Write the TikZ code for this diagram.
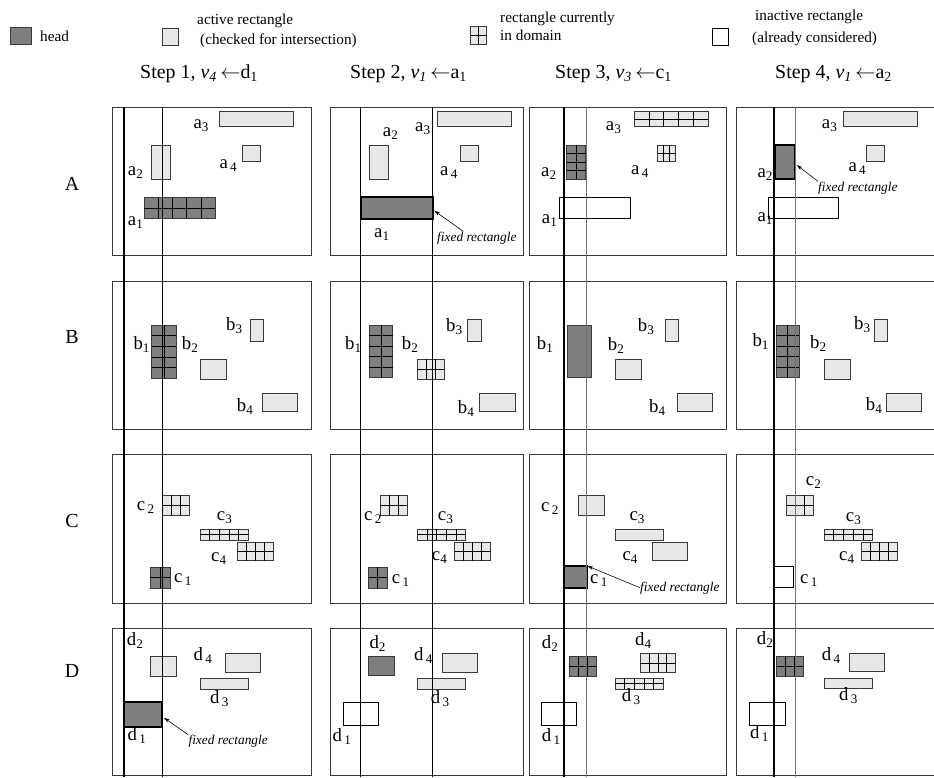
\documentclass[tikz,border=0pt]{standalone}
\usepackage{fontspec}
\setmainfont{Liberation Serif}
\usetikzlibrary{arrows.meta,calc}
\definecolor{HeadGray}{HTML}{7F7F7F}
\definecolor{ActiveGray}{HTML}{E8E8E8}
\definecolor{EdgeGray}{HTML}{3A3A3A}
\tikzset{
  panel/.style={draw=EdgeGray, line width=0.6pt},
  headrect/.style={draw=EdgeGray, fill=HeadGray, line width=0.5pt},
  activerect/.style={draw=EdgeGray, fill=ActiveGray, line width=0.5pt},
  inactiverect/.style={draw=black, fill=white, line width=0.5pt},
  fixedrect/.style={draw=black, fill=HeadGray, line width=1.4pt},
  gridline/.style={draw=black, line width=0.5pt},
  sweep/.style={draw=black, line width=0.8pt},
  sweepthick/.style={draw=black, line width=1.5pt},
  sweepthin/.style={draw=black!55, line width=0.8pt},
  lab/.style={anchor=base west, inner sep=0pt, font=\fontsize{16}{18}\selectfont},
  fixlab/.style={anchor=base west, inner sep=0pt, font=\fontsize{11.4}{13}\selectfont\itshape},
  fixarr/.style={-{Stealth[length=5pt,width=3pt]}, line width=0.5pt},
  legtext/.style={anchor=base west, inner sep=0pt, font=\fontsize{13}{15}\selectfont},
  steptext/.style={anchor=base west, inner sep=0pt, font=\fontsize{17}{20}\selectfont},
  rowlab/.style={anchor=base, inner sep=0pt, font=\fontsize{17}{20}\selectfont}
}
% rectangle with cell lines: style, x1, y1, x2, y2, columns, rows
\newcommand{\gridrect}[7]{%
  \draw[#1] (#2,#3) rectangle (#4,#5);
  \foreach \k in {2,...,#6} \draw[gridline] ({#2+(#4-#2)*(\k-1)/#6},#3) -- ({#2+(#4-#2)*(\k-1)/#6},#5);
  \foreach \k in {2,...,#7} \draw[gridline] (#2,{#3+(#5-#3)*(\k-1)/#7}) -- (#4,{#3+(#5-#3)*(\k-1)/#7});
}
\newcommand{\lb}[2]{#1\textsubscript{#2}}
\newcommand{\lbs}[2]{#1\kern2pt\textsubscript{#2}}
% step number, variable index, chosen rectangle letter and index
\newcommand{\stepname}[4]{Step #1, \textit{v}\textsubscript{\textit{#2}}\,$\leftarrow$#3\textsubscript{#4}}

\begin{document}
\begin{tikzpicture}[x=0.03cm,y=-0.03cm]
\useasboundingbox (0,0) rectangle (934,777);

% legend
\draw[headrect] (10,27) rectangle (31,44);
\node[legtext] (lhead) at (40,41) {head};
\draw[activerect] (162,28) rectangle (178,45);
\node[legtext] (lact1) at (197,24) {active rectangle};
\node[legtext] (lact2) at (200,44) {(checked for intersection)};
\gridrect{activerect}{470}{26}{486}{44}{2}{2}
\node[legtext] (ldom1) at (500,22) {rectangle currently};
\node[legtext] (ldom2) at (500,40) {in domain};
\draw[inactiverect] (712,28) rectangle (728,45);
\node[legtext] (linact1) at (755,20) {inactive rectangle};
\node[legtext] (linact2) at (752,42) {(already considered)};

% column headers
\node[steptext] (s1) at (140,78) {\stepname{1}{4}{d}{1}};
\node[steptext] (s2) at (350,78) {\stepname{2}{1}{a}{1}};
\node[steptext] (s3) at (555,78) {\stepname{3}{3}{c}{1}};
\node[steptext] (s4) at (775,78) {\stepname{4}{1}{a}{2}};

% row labels
\node[rowlab] (rA) at (72,190) {A};
\node[rowlab] (rB) at (72,343) {B};
\node[rowlab] (rC) at (72,527) {C};
\node[rowlab] (rD) at (72,677) {D};

% panels
\foreach \xa/\xb in {112.7/311.7, 330/523.3, 529.3/726.7, 736.7/935}
  \foreach \ya/\yb in {107.3/255.7, 281.7/429.3, 454.3/603.3, 628.3/775.3}
    \draw[panel] (\xa,\ya) rectangle (\xb,\yb);

% row A
\draw[activerect] (219,111.7) rectangle (293.3,126.7);
\draw[activerect] (151.7,145) rectangle (170,179.3);
\draw[activerect] (242.7,145) rectangle (260.7,161);
\gridrect{headrect}{144.3}{197.7}{215}{218.3}{5}{2}
\node[lab] (a3-1) at (193.3,128.3) {\lb{a}{3}};
\node[lab] (a2-1) at (127.7,175) {\lb{a}{2}};
\node[lab] (a4-1) at (219.3,168.3) {\lbs{a}{4}};
\node[lab] (a1-1) at (127.7,225) {\lb{a}{1}};

\draw[activerect] (437,111.7) rectangle (511.3,126.7);
\draw[activerect] (369.7,145) rectangle (388,179.3);
\draw[activerect] (460.7,145) rectangle (478.7,161);
\draw[fixedrect] (360.7,196.7) rectangle (433.3,219);
\coordinate (tipA2) at (434.3,210.7);
\node[lab] (a3-2) at (415,131.7) {\lb{a}{3}};
\node[lab] (a2-2) at (382.7,136.7) {\lb{a}{2}};
\node[lab] (a4-2) at (440,175) {\lbs{a}{4}};
\node[lab] (a1-2) at (374,237) {\lb{a}{1}};
\node[fixlab] (fixA2) at (437,241) {fixed rectangle};
\draw[fixarr] ($(fixA2.north west)!0.33!(fixA2.north east)$) -- (tipA2);

\gridrect{activerect}{634}{111.7}{708.3}{126.7}{5}{2}
\gridrect{headrect}{566.7}{145}{585.7}{179.3}{2}{4}
\gridrect{activerect}{657.7}{145}{675.7}{161.7}{3}{2}
\draw[inactiverect] (559.3,197.7) rectangle (630,218.3);
\node[lab] (a3-3) at (605.7,130) {\lb{a}{3}};
\node[lab] (a2-3) at (541,176.7) {\lb{a}{2}};
\node[lab] (a4-3) at (631,174) {\lbs{a}{4}};
\node[lab] (a1-3) at (541.7,223.3) {\lb{a}{1}};

\draw[activerect] (843.3,111.7) rectangle (917.3,126.7);
\draw[fixedrect] (775,145) rectangle (795,179.3);
\coordinate (tipA4) at (796.7,165);
\draw[activerect] (866.7,145) rectangle (884.3,161);
\draw[inactiverect] (768.3,197.7) rectangle (838.3,218.3);
\node[lab] (a3-4) at (821.7,128.3) {\lb{a}{3}};
\node[lab] (a2-4) at (757.3,177.3) {\lb{a}{2}};
\node[lab] (a4-4) at (848.3,171.7) {\lbs{a}{4}};
\node[lab] (a1-4) at (757.3,221.7) {\lb{a}{1}};
\node[fixlab] (fixA4) at (818,191) {fixed rectangle};
\draw[fixarr] (fixA4.north west) -- (tipA4);

% row B
\gridrect{headrect}{151.7}{325}{176}{378.3}{2}{5}
\draw[activerect] (200,359.3) rectangle (226.7,379);
\draw[activerect] (250,319) rectangle (263.3,341.7);
\draw[activerect] (262.3,393.3) rectangle (297.3,411.7);
\node[lab] (b1-1) at (133.3,349) {\lb{b}{1}};
\node[lab] (b2-1) at (181.7,349) {\lb{b}{2}};
\node[lab] (b3-1) at (226,330) {\lb{b}{3}};
\node[lab] (b4-1) at (236.7,411.7) {\lb{b}{4}};

\gridrect{headrect}{369.3}{325}{392.7}{377.7}{2}{5}
\gridrect{activerect}{417.3}{359.3}{444.3}{379}{3}{2}
\draw[activerect] (467.3,319) rectangle (481,341.7);
\draw[activerect] (479.3,393.3) rectangle (515,411.7);
\node[lab] (b1-2) at (345,349) {\lb{b}{1}};
\node[lab] (b2-2) at (401.7,349) {\lb{b}{2}};
\node[lab] (b3-2) at (446,331.7) {\lb{b}{3}};
\node[lab] (b4-2) at (457.7,413.3) {\lb{b}{4}};

\draw[headrect] (567.3,325) rectangle (591,377.7);
\draw[activerect] (615,359.3) rectangle (641.7,379);
\draw[activerect] (665,319) rectangle (678.3,341.7);
\draw[activerect] (677.3,393.3) rectangle (712.3,411.7);
\node[lab] (b1-3) at (536.7,349) {\lb{b}{1}};
\node[lab] (b2-3) at (607.7,350) {\lb{b}{2}};
\node[lab] (b3-3) at (637.7,331) {\lb{b}{3}};
\node[lab] (b4-3) at (649,412.3) {\lb{b}{4}};

\gridrect{headrect}{776}{325}{799.3}{377.7}{2}{5}
\draw[activerect] (824.3,359.3) rectangle (850.7,379);
\draw[activerect] (874,319) rectangle (887.3,341.7);
\draw[activerect] (886,393.3) rectangle (921,411.7);
\node[lab] (b1-4) at (752.3,346.7) {\lb{b}{1}};
\node[lab] (b2-4) at (810,348.3) {\lb{b}{2}};
\node[lab] (b3-4) at (854,329) {\lb{b}{3}};
\node[lab] (b4-4) at (865.7,410) {\lb{b}{4}};

% row C
\gridrect{activerect}{162.7}{495.3}{189.3}{515.3}{3}{2}
\gridrect{activerect}{200}{529.3}{248.3}{540}{5}{2}
\gridrect{activerect}{237.3}{542}{273.3}{560.7}{4}{2}
\gridrect{headrect}{150}{567.3}{170}{588}{2}{2}
\node[lab] (c2-1) at (136.7,510) {\lbs{c}{2}};
\node[lab] (c3-1) at (216.7,520) {\lb{c}{3}};
\node[lab] (c4-1) at (211,561.7) {\lb{c}{4}};
\node[lab] (c1-1) at (174,582.7) {\lbs{c}{1}};

\gridrect{activerect}{380.7}{495.3}{407.3}{515.3}{3}{2}
\gridrect{activerect}{417.3}{529.3}{465.7}{540}{5}{2}
\gridrect{activerect}{454.7}{542}{490.7}{560.7}{4}{2}
\gridrect{headrect}{368}{567.3}{387.3}{588}{2}{2}
\node[lab] (c2-2) at (364,520) {\lbs{c}{2}};
\node[lab] (c3-2) at (437.7,520) {\lb{c}{3}};
\node[lab] (c4-2) at (431.7,560) {\lb{c}{4}};
\node[lab] (c1-2) at (391.7,583.3) {\lbs{c}{1}};

\draw[activerect] (578.3,495.3) rectangle (604.3,515.3);
\draw[activerect] (615,529.3) rectangle (663.3,540);
\draw[activerect] (652.3,542) rectangle (687.7,560.7);
\draw[fixedrect] (564.3,565.7) rectangle (586.7,588.3);
\coordinate (tipC3) at (587.5,566);
\node[lab] (c2-3) at (541,511.7) {\lbs{c}{2}};
\node[lab] (c3-3) at (629.3,520) {\lb{c}{3}};
\node[lab] (c4-3) at (622.3,560) {\lb{c}{4}};
\node[lab] (c1-3) at (590,583.3) {\lbs{c}{1}};
\node[fixlab] (fixC3) at (640,591) {fixed rectangle};
\draw[fixarr] (fixC3.west) -- (tipC3);

\gridrect{activerect}{786.7}{495.3}{813.3}{515.3}{3}{2}
\gridrect{activerect}{824}{529.3}{872.7}{540}{5}{2}
\gridrect{activerect}{861.7}{542}{897.3}{560.7}{4}{2}
\draw[inactiverect] (774.3,566.7) rectangle (793.3,587.7);
\node[lab] (c2-4) at (805.7,485) {\lb{c}{2}};
\node[lab] (c3-4) at (845.7,521.7) {\lb{c}{3}};
\node[lab] (c4-4) at (839,560) {\lb{c}{4}};
\node[lab] (c1-4) at (800,583.3) {\lbs{c}{1}};

% row D
\draw[activerect] (150.7,656.7) rectangle (176.7,676.7);
\draw[activerect] (225,653.3) rectangle (260.7,672.3);
\draw[activerect] (200,678.3) rectangle (248.3,689.3);
\draw[fixedrect] (124,702.3) rectangle (161.7,727.3);
\coordinate (tipD1) at (164,717.7);
\node[lab] (d2-1) at (126.7,645) {\lb{d}{2}};
\node[lab] (d4-1) at (193.3,660.7) {\lbs{d}{4}};
\node[lab] (d3-1) at (210,703.3) {\lbs{d}{3}};
\node[lab] (d1-1) at (127.3,740) {\lbs{d}{1}};
\node[fixlab] (fixD1) at (188.3,744.5) {fixed rectangle};
\draw[fixarr] (fixD1.north west) -- (tipD1);

\draw[headrect] (368.3,656) rectangle (394.3,675.7);
\draw[activerect] (442.3,653.3) rectangle (477.7,672.3);
\draw[activerect] (417.3,678.3) rectangle (465.7,689.3);
\draw[inactiverect] (343.3,702.3) rectangle (378.3,725.7);
\node[lab] (d2-2) at (369.3,648.3) {\lb{d}{2}};
\node[lab] (d4-2) at (414,660) {\lbs{d}{4}};
\node[lab] (d3-2) at (430.7,703.3) {\lbs{d}{3}};
\node[lab] (d1-2) at (332.3,741.7) {\lbs{d}{1}};

\gridrect{headrect}{569.3}{656}{596}{676}{3}{2}
\gridrect{activerect}{640}{653.3}{675.7}{672.3}{4}{2}
\gridrect{activerect}{615}{678.3}{663.3}{689}{5}{2}
\draw[inactiverect] (541,702.3) rectangle (576.7,725.7);
\node[lab] (d2-3) at (541.7,648.3) {\lb{d}{2}};
\node[lab] (d4-3) at (635,645) {\lb{d}{4}};
\node[lab] (d3-3) at (621.7,701.7) {\lbs{d}{3}};
\node[lab] (d1-3) at (541.7,741.7) {\lbs{d}{1}};

\gridrect{headrect}{776.7}{656}{803.3}{676}{3}{2}
\draw[activerect] (849,653.3) rectangle (884.3,671.7);
\draw[activerect] (824,678) rectangle (872.3,688.3);
\draw[inactiverect] (749.3,702.3) rectangle (785,725.7);
\node[lab] (d2-4) at (756.7,644) {\lb{d}{2}};
\node[lab] (d4-4) at (821.7,660) {\lbs{d}{4}};
\node[lab] (d3-4) at (839,700) {\lbs{d}{3}};
\node[lab] (d1-4) at (750,738.3) {\lbs{d}{1}};

% sweep lines of the head in each step
\draw[sweep, line width=1.1pt] (124,107.3) -- (124,777);
\draw[sweep] (162,107.3) -- (162,777);
\draw[sweep] (360.7,107.3) -- (360.7,777);
\draw[sweep] (432.3,107.3) -- (432.3,777);
\draw[sweepthick] (564,107.3) -- (564,777);
\draw[sweepthin] (586.7,107.3) -- (586.7,777);
\draw[sweepthick] (773.7,107.3) -- (773.7,777);
\draw[sweepthin] (795.3,107.3) -- (795.3,777);
\end{tikzpicture}
\end{document}
